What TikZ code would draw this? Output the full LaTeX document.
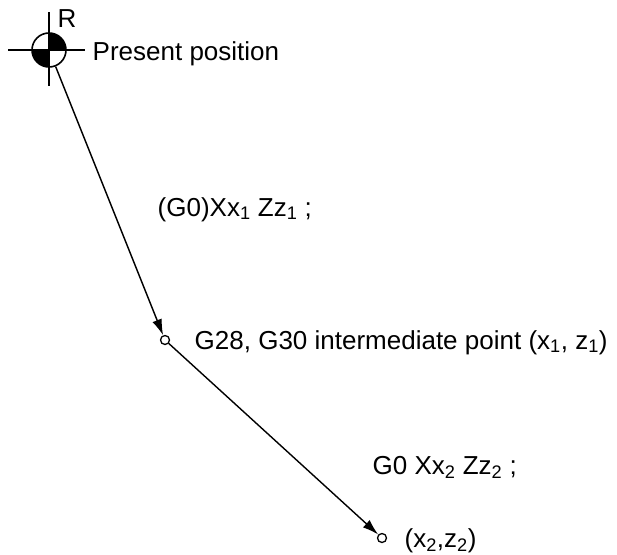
\documentclass[tikz,border=0pt]{standalone}
\usepackage{fontspec}
\setmainfont{Liberation Sans}
\usetikzlibrary{arrows.meta}
\tikzset{
  txt/.style={anchor=base west, inner sep=0pt, font=\fontsize{26}{30}\selectfont},
  dot/.style={circle, draw, minimum size=9pt, inner sep=0pt, line width=1.3pt}
}
\begin{document}
\begin{tikzpicture}[x=1pt, y=-1pt, >={Latex[length=16pt,width=10pt]}, line width=1.4pt]
    \useasboundingbox (0,0) rectangle (617,554);
    % reference point
    \node[circle, draw, minimum size=34pt, inner sep=0pt, line width=1.6pt] (refpt) at (49,50) {};
    \fill (49,50) -- (66,50) arc[start angle=0, end angle=90, radius=17pt] -- cycle;
    \fill (49,50) -- (32,50) arc[start angle=180, end angle=270, radius=17pt] -- cycle;
    \draw[line width=1.6pt] (8,50) -- (85,50);
    \draw[line width=1.6pt] (49,12) -- (49,86);
    \node[txt] (rlbl) at (57,27) {R};
    \node[txt] (pres) at (92,60) {Present position};
    % points
    \node[dot] (mid) at (165,340) {};
    \node[dot] (tgt) at (382,538) {};
    \draw[->] (refpt) -- (mid);
    \draw[->] (mid) -- (tgt);
    % labels
    \node[txt] (cmd1) at (157,216) {(G0)Xx\textsubscript{1} Zz\textsubscript{1} ;};
    \node[txt] (midlbl) at (194,349) {G28, G30 intermediate point (x\textsubscript{1}, z\textsubscript{1})};
    \node[txt] (cmd2) at (372,474) {G0 Xx\textsubscript{2} Zz\textsubscript{2} ;};
    \node[txt] (tgtlbl) at (404,547) {(x\textsubscript{2},z\textsubscript{2})};
\end{tikzpicture}
\end{document}
